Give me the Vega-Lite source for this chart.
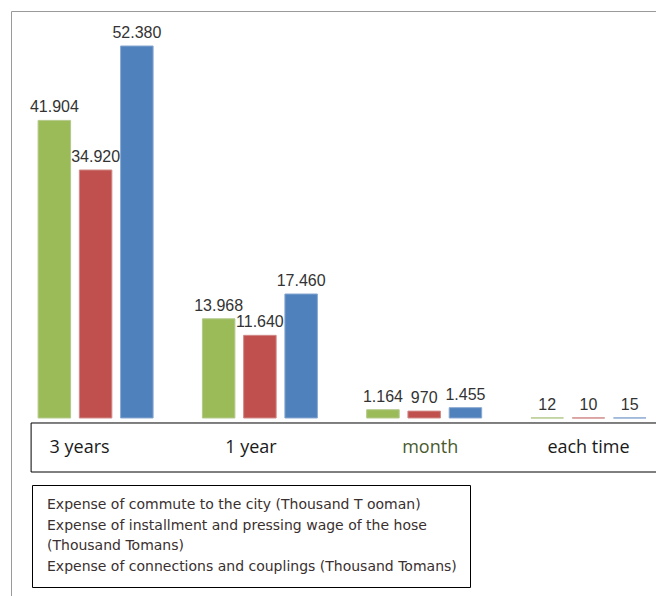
{
  "$schema": "https://vega.github.io/schema/vega-lite/v6.json",
  "width": 645,
  "height": 585,
  "autosize": {"type": "none"},
  "padding": {"left": 11, "top": 11, "right": 0, "bottom": 0},
  "config": {
    "view": {"stroke": "#9a9a9a", "strokeWidth": 1},
    "locale": {"number": {"decimal": ",", "thousands": ".", "grouping": [3], "currency": ["", ""]}},
    "style": {"guide-label": {"lineHeight": 20}}
  },
  "datasets": {
    "costs": [
      {"period": "3 years", "series": "Expense of commute to the city (Thousand T ooman)", "value": 41904},
      {"period": "3 years", "series": "Expense of installment and pressing wage of the hose (Thousand Tomans)", "value": 34920},
      {"period": "3 years", "series": "Expense of connections and couplings (Thousand Tomans)", "value": 52380},
      {"period": "1 year", "series": "Expense of commute to the city (Thousand T ooman)", "value": 13968},
      {"period": "1 year", "series": "Expense of installment and pressing wage of the hose (Thousand Tomans)", "value": 11640},
      {"period": "1 year", "series": "Expense of connections and couplings (Thousand Tomans)", "value": 17460},
      {"period": "month", "series": "Expense of commute to the city (Thousand T ooman)", "value": 1164},
      {"period": "month", "series": "Expense of installment and pressing wage of the hose (Thousand Tomans)", "value": 970},
      {"period": "month", "series": "Expense of connections and couplings (Thousand Tomans)", "value": 1455},
      {"period": "each time", "series": "Expense of commute to the city (Thousand T ooman)", "value": 12},
      {"period": "each time", "series": "Expense of installment and pressing wage of the hose (Thousand Tomans)", "value": 10},
      {"period": "each time", "series": "Expense of connections and couplings (Thousand Tomans)", "value": 15}
    ],
    "box": [
      {"period": "3 years", "periodEnd": "each time", "top": -704, "bottom": -7604}
    ]
  },
  "layer": [
    {
      "data": {"name": "box"},
      "mark": {"type": "rect", "filled": false, "stroke": "#000000", "strokeWidth": 1, "xOffset": -64.5, "x2Offset": 140},
      "encoding": {
        "x": {
          "field": "period",
          "type": "nominal",
          "scale": {
            "domain": ["3 years", "1 year", "month", "each time"],
            "paddingInner": 0.3,
            "paddingOuter": 0.113,
            "align": 0.73,
            "round": false
          },
          "axis": {
            "title": null,
            "orient": "bottom",
            "offset": -173,
            "domain": false,
            "ticks": false,
            "tickSize": 0,
            "grid": false,
            "labelAngle": 0,
            "labelBaseline": "middle",
            "labelPadding": 24,
            "labelFont": "Open Sans",
            "labelFontSize": 18,
            "labelColor": {"condition": {"test": "datum.value === 'month'", "value": "#4a5a2e"}, "value": "#1a1a1a"},
            "labelOffset": {"condition": [
              {"test": "datum.value === '3 years'", "value": -16},
              {"test": "datum.value === '1 year'", "value": -9},
              {"test": "datum.value === 'month'", "value": 6}
            ], "value": 0}
          }
        },
        "x2": {"field": "periodEnd"},
        "y": {
          "field": "top",
          "type": "quantitative",
          "scale": {"domain": [-25064, 57308], "nice": false, "zero": false},
          "axis": null
        },
        "y2": {"field": "bottom"}
      }
    },
    {
      "data": {"name": "costs"},
      "mark": {"type": "bar", "strokeWidth": 1},
      "encoding": {
        "x": {"field": "period", "type": "nominal"},
        "xOffset": {
          "field": "series",
          "type": "nominal",
          "scale": {
            "domain": [
              "Expense of commute to the city (Thousand T ooman)",
              "Expense of installment and pressing wage of the hose (Thousand Tomans)",
              "Expense of connections and couplings (Thousand Tomans)"
            ],
            "paddingInner": 0.212,
            "paddingOuter": 0
          }
        },
        "y": {"field": "value", "type": "quantitative"},
        "color": {
          "field": "series",
          "type": "nominal",
          "scale": {
            "domain": [
              "Expense of commute to the city (Thousand T ooman)",
              "Expense of installment and pressing wage of the hose (Thousand Tomans)",
              "Expense of connections and couplings (Thousand Tomans)"
            ],
            "range": ["#9bbb59", "#c0504d", "#4f81bd"]
          },
          "legend": {
            "orient": "none",
            "legendX": 21,
            "legendY": 474,
            "title": null,
            "strokeColor": "#000000",
            "fillColor": "#ffffff",
            "padding": 13,
            "symbolSize": 0,
            "symbolStrokeWidth": 0,
            "symbolOpacity": 0,
            "labelOffset": -12,
            "labelFont": "DejaVu Sans",
            "labelFontSize": 14,
            "labelColor": "#3a3030",
            "labelLimit": 700,
            "rowPadding": 7,
            "labelExpr": "datum.label == 'Expense of installment and pressing wage of the hose (Thousand Tomans)' ? ['Expense of installment and pressing wage of the hose', '(Thousand Tomans)'] : datum.label"
          }
        },
        "stroke": {
          "field": "series",
          "type": "nominal",
          "scale": {
            "domain": [
              "Expense of commute to the city (Thousand T ooman)",
              "Expense of installment and pressing wage of the hose (Thousand Tomans)",
              "Expense of connections and couplings (Thousand Tomans)"
            ],
            "range": ["#b3c98a", "#d08a88", "#8aa8d0"]
          },
          "legend": null
        }
      }
    },
    {
      "data": {"name": "costs"},
      "mark": {"type": "text", "font": "Liberation Sans", "fontSize": 16, "color": "#333333", "baseline": "alphabetic", "dy": -8},
      "encoding": {
        "x": {"field": "period", "type": "nominal"},
        "xOffset": {"field": "series", "type": "nominal"},
        "y": {"field": "value", "type": "quantitative"},
        "text": {"field": "value", "type": "quantitative", "format": ",d"}
      }
    }
  ]
}
